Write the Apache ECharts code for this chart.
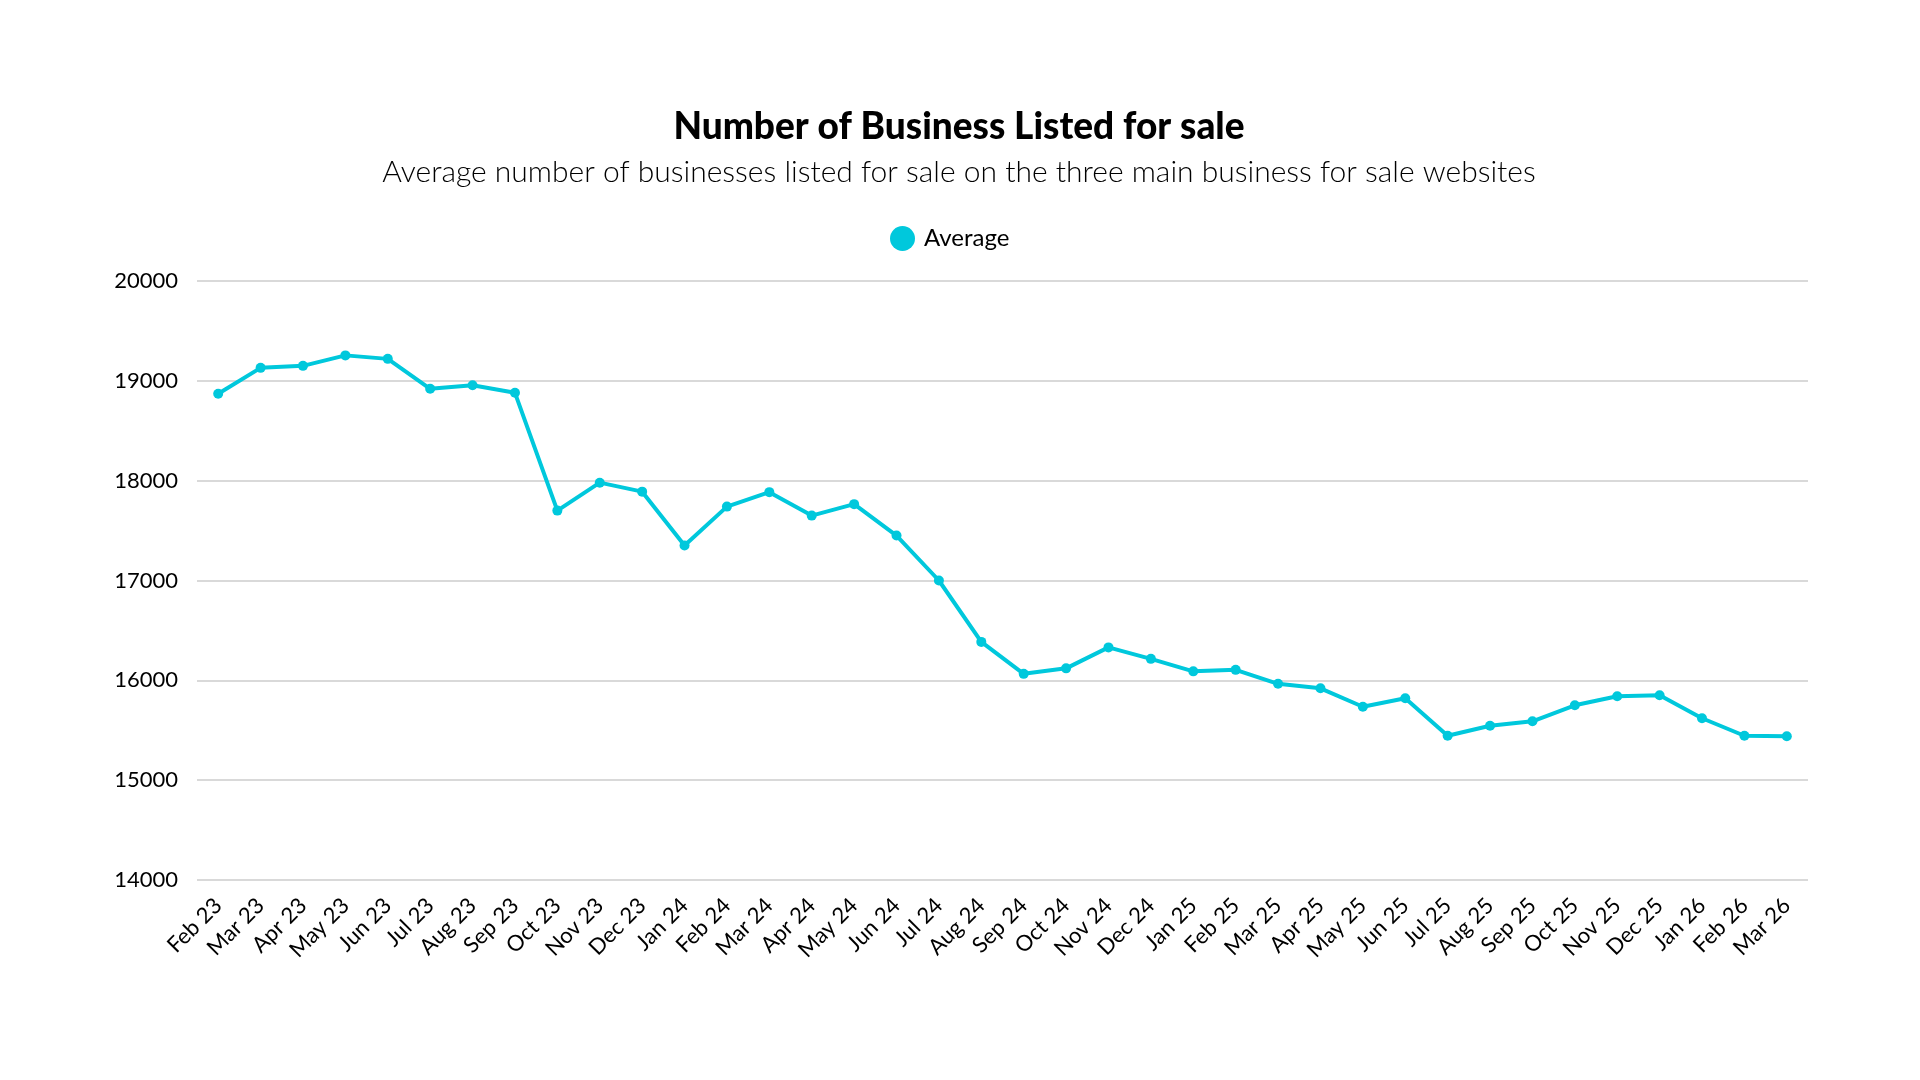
<!DOCTYPE html>
<html>
<head>
<meta charset="utf-8">
<title>Number of Business Listed for sale</title>
<script src="https://cdn.jsdelivr.net/npm/echarts@6/dist/echarts.min.js"></script>
<style>
  html, body { margin: 0; padding: 0; background: #fff; }
  #chart { width: 1920px; height: 1080px; }
</style>
</head>
<body>
<div id="chart"></div>
<script>
// month labels, Feb 23 .. Mar 26
const months = [
  'Feb 23', 'Mar 23', 'Apr 23', 'May 23', 'Jun 23', 'Jul 23', 'Aug 23', 'Sep 23', 'Oct 23', 'Nov 23', 'Dec 23',
  'Jan 24', 'Feb 24', 'Mar 24', 'Apr 24', 'May 24', 'Jun 24', 'Jul 24', 'Aug 24', 'Sep 24', 'Oct 24', 'Nov 24', 'Dec 24',
  'Jan 25', 'Feb 25', 'Mar 25', 'Apr 25', 'May 25', 'Jun 25', 'Jul 25', 'Aug 25', 'Sep 25', 'Oct 25', 'Nov 25', 'Dec 25',
  'Jan 26', 'Feb 26', 'Mar 26'
]
// average listings
const average = [
  18870, 19130, 19150, 19255, 19220, 18920, 18955, 18880, 17700, 17980, 17890,
  17350, 17740, 17885, 17650, 17765, 17450, 17000, 16385, 16065, 16120, 16330, 16215,
  16090, 16105, 15965, 15920, 15735, 15820, 15445, 15545, 15590, 15750, 15840, 15850,
  15620, 15445, 15440
]
const yMin = 14000
const yMax = 20000
const yStep = 1000

const lineColor = '#00c8dc'
const font = 'Lato, "Open Sans", sans-serif'

const myChart = echarts.init(document.getElementById('chart'))
const options = {
  backgroundColor: '#fff',
  animation: false,
  textStyle: { fontFamily: font },
  title: [
    {
      text: 'Number of Business Listed for sale',
      left: 954,
      top: 104,
      textAlign: 'center',
      textStyle: { fontSize: 37, fontWeight: 900, color: '#000', fontFamily: font }
    },
    {
      text: 'Average number of businesses listed for sale on the three main business for sale websites',
      left: 954,
      top: 152,
      textAlign: 'center',
      textStyle: { fontSize: 30, fontWeight: 300, color: '#000', fontFamily: font }
    }
  ],
  legend: {
    top: 221,
    left: 885,
    icon: 'circle',
    itemWidth: 25,
    itemHeight: 25,
    itemGap: 10,
    textStyle: { fontSize: 24, color: '#000', fontFamily: font, padding: [0, 0, 0, 4] },
    data: ['Average']
  },
  grid: {
    left: 197,
    right: 112,
    top: 281,
    bottom: 200,
    containLabel: false
  },
  xAxis: {
    type: 'category',
    data: months,
    boundaryGap: true,
    axisLine: { show: false },
    axisTick: { show: false },
    axisLabel: {
      rotate: 45,
      interval: 0,
      margin: 22,
      fontSize: 22,
      color: '#000',
      fontFamily: font
    }
  },
  yAxis: {
    type: 'value',
    min: yMin,
    max: yMax,
    interval: yStep,
    axisLine: { show: false },
    axisTick: { show: false },
    axisLabel: {
      fontSize: 22,
      color: '#000',
      margin: 19,
      fontFamily: font,
      formatter: (v) => String(v)
    },
    splitLine: { lineStyle: { color: '#cccccc', width: 1.5 } }
  },
  series: [
    {
      name: 'Average',
      type: 'line',
      data: average,
      symbol: 'circle',
      symbolSize: 10,
      lineStyle: { color: lineColor, width: 4 },
      itemStyle: { color: lineColor }
    }
  ]
}
myChart.setOption(options)
</script>
</body>
</html>
